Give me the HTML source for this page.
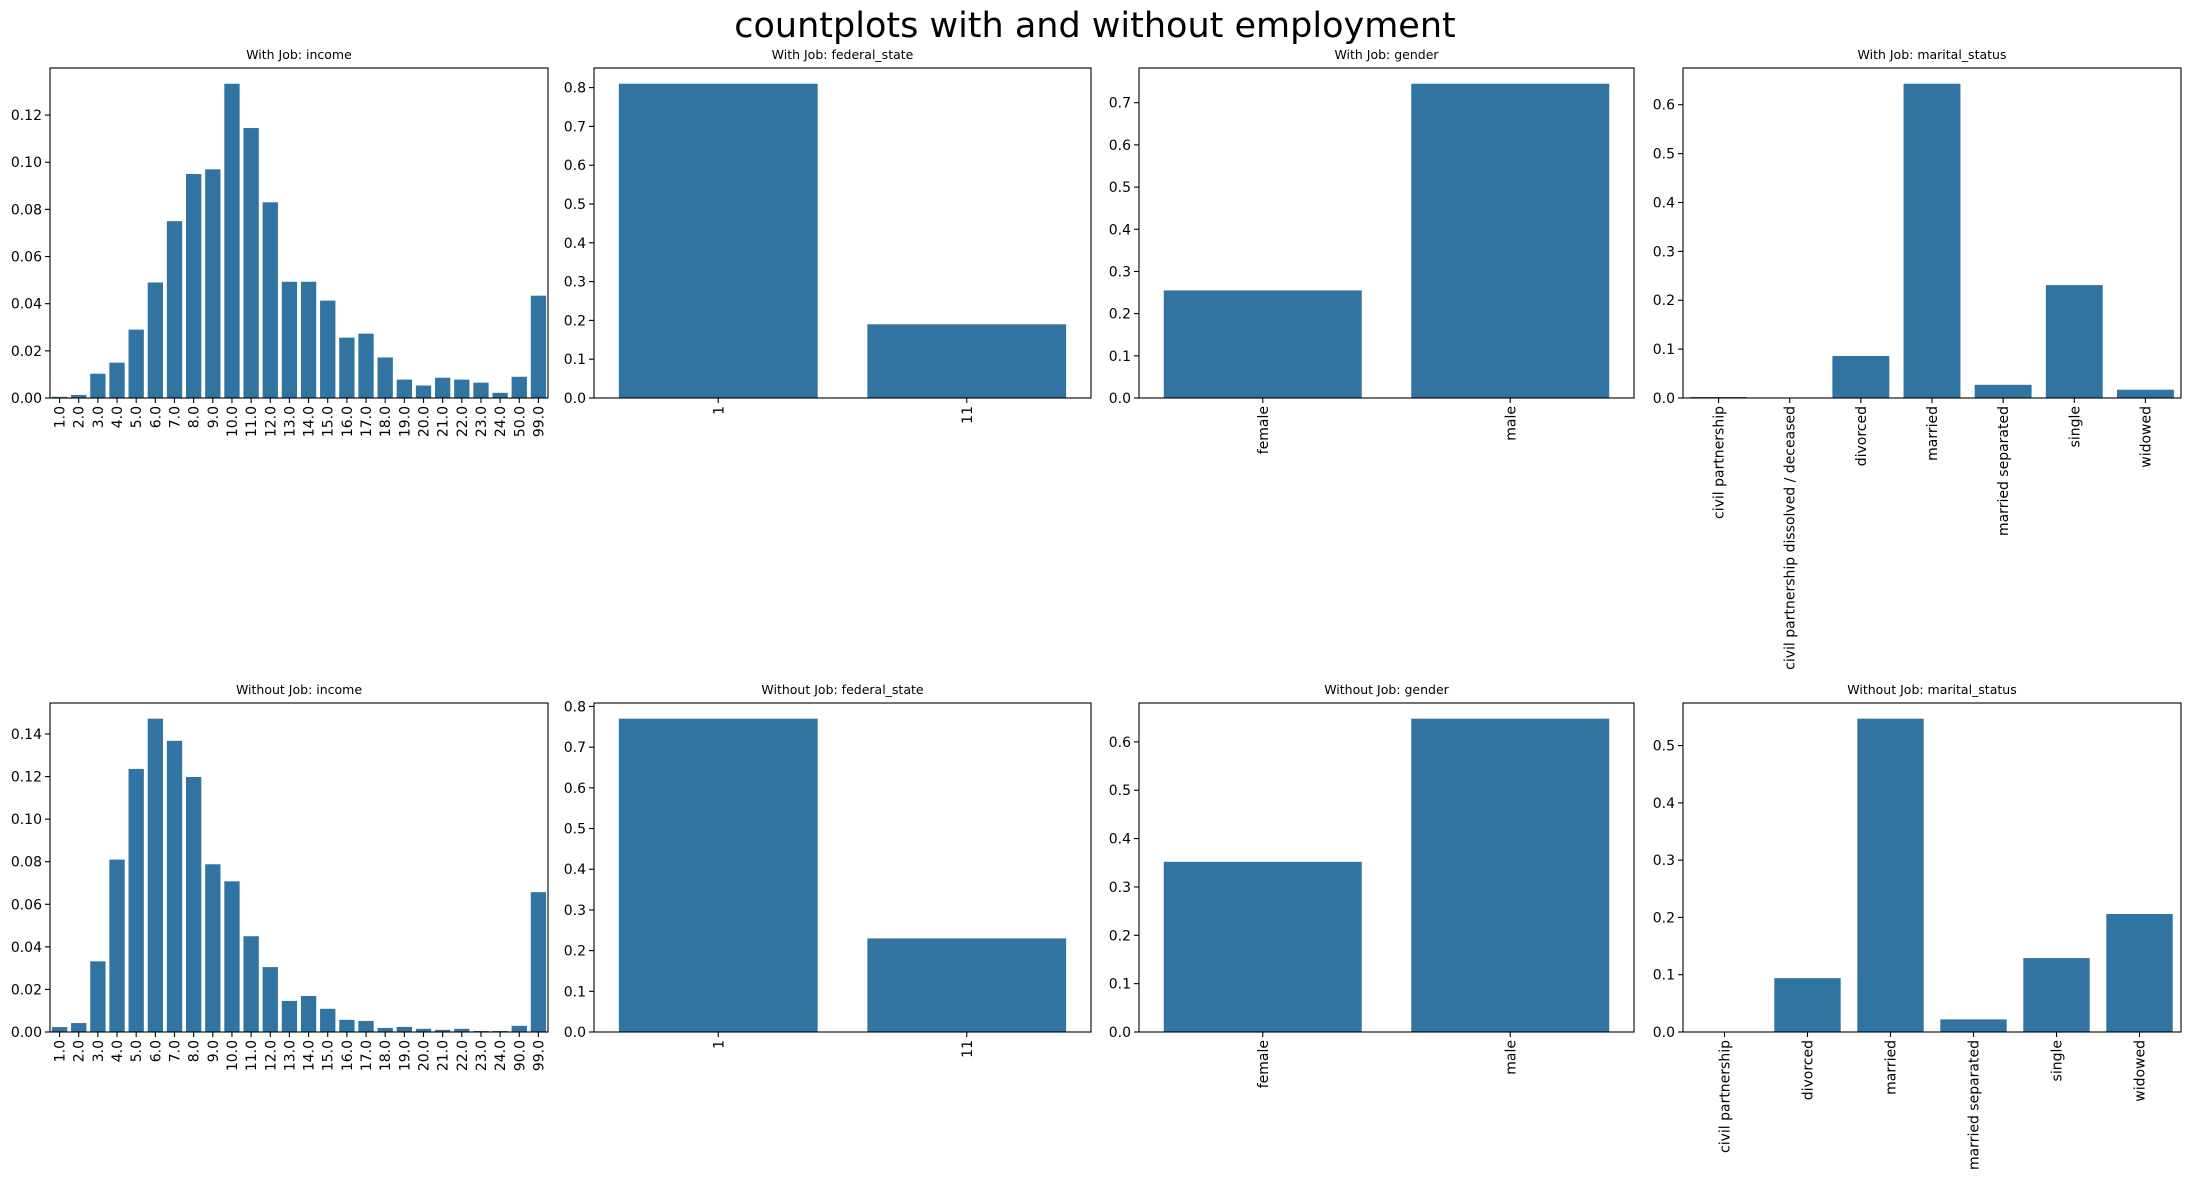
<!DOCTYPE html>
<html><head><meta charset="utf-8">
<style>
body{margin:0;background:#fff;}
svg{display:block;font-family:"DejaVu Sans","Liberation Sans",sans-serif;}
</style></head>
<body>
<svg id="fig" width="2190" height="1181" viewBox="0 0 2190 1181" xmlns="http://www.w3.org/2000/svg">
<rect width="2190" height="1181" fill="#fff"/>
<text x="1095" y="37" text-anchor="middle" font-size="35" fill="#000">countplots with and without employment</text>
</svg>
<script>
const incomeCatsJob = ["1.0","2.0","3.0","4.0","5.0","6.0","7.0","8.0","9.0","10.0","11.0","12.0","13.0","14.0","15.0","16.0","17.0","18.0","19.0","20.0","21.0","22.0","23.0","24.0","50.0","99.0"];
const incomeValsJob = [0.0005,0.0013,0.0103,0.015,0.029,0.049,0.075,0.095,0.097,0.1333,0.1145,0.083,0.0493,0.0493,0.0413,0.0256,0.0273,0.0172,0.0078,0.0053,0.0086,0.0078,0.0065,0.0022,0.009,0.0434];
const incomeCatsNo = ["1.0","2.0","3.0","4.0","5.0","6.0","7.0","8.0","9.0","10.0","11.0","12.0","13.0","14.0","15.0","16.0","17.0","18.0","19.0","20.0","21.0","22.0","23.0","24.0","90.0","99.0"];
const incomeValsNo = [0.0023,0.0042,0.0332,0.081,0.1236,0.1472,0.1368,0.1198,0.0788,0.0708,0.045,0.0305,0.0146,0.0169,0.0109,0.0057,0.0052,0.0019,0.0024,0.0015,0.001,0.0015,0.0005,0.0005,0.0029,0.0657];
const stateCats = ["1","11"];
const stateValsJob = [0.81,0.19];
const stateValsNo = [0.77,0.23];
const genderCats = ["female","male"];
const genderValsJob = [0.255,0.745];
const genderValsNo = [0.352,0.648];
const maritalCatsJob = ["civil partnership","civil partnership dissolved / deceased","divorced","married","married separated","single","widowed"];
const maritalValsJob = [0.002,0.0003,0.086,0.643,0.027,0.231,0.017];
const maritalCatsNo = ["civil partnership","divorced","married","married separated","single","widowed"];
const maritalValsNo = [0.0005,0.094,0.547,0.022,0.129,0.206];

const NS="http://www.w3.org/2000/svg";
const svg=document.getElementById('fig');
function mk(tag,attrs){const e=document.createElementNS(NS,tag);for(const k in attrs)e.setAttribute(k,attrs[k]);svg.appendChild(e);return e;}

const cols=[[50,548],[594,1091],[1139,1634],[1683,2181]];
const rows=[[68,398],[703,1032]];

function panel(title,cats,vals,col,row,step,dec,slug){
  const [x0,x1]=cols[col],[y0,y1]=rows[row];
  const ymax=Math.max(...vals)*1.05;
  const n=cats.length;
  const xs=i=>x0+(i+0.5)*(x1-x0)/n;
  const bw=0.8*(x1-x0)/n;
  const ys=v=>y1-v/ymax*(y1-y0);
  const t=mk('text',{x:(x0+x1)/2,y:y0-9,'text-anchor':'middle','font-size':12.5,fill:'#000'});
  t.textContent=title;
  
  
  vals.forEach((v,i)=>{
    const r=mk('rect',{x:xs(i)-bw/2,y:ys(v),width:bw,height:y1-ys(v),fill:'#3274a1'});
    
    
  });
  for(let k=0;k*step<=ymax+1e-9;k++){
    const v=k*step,y=ys(v);
    mk('line',{x1:x0-5,x2:x0,y1:y,y2:y,stroke:'#000','stroke-width':1.1});
    const l=mk('text',{x:x0-8,y:y+5,'text-anchor':'end','font-size':14,fill:'#000'});
    l.textContent=v.toFixed(dec);
    
    
  }
  cats.forEach((c,i)=>{
    const x=xs(i);
    mk('line',{x1:x,x2:x,y1:y1,y2:y1+5,stroke:'#000','stroke-width':1.1});
    const l=mk('text',{x:0,y:0,'text-anchor':'end','font-size':14,fill:'#000',transform:`translate(${x+5},${y1+8}) rotate(-90)`});
    l.textContent=c;
    
    
  });
  const f=mk('rect',{x:x0,y:y0,width:x1-x0,height:y1-y0,fill:'none',stroke:'#000','stroke-width':1.1});
  
  
}
panel("With Job: income",incomeCatsJob,incomeValsJob,0,0,0.02,2,'job-income');
panel("With Job: federal_state",stateCats,stateValsJob,1,0,0.1,1,'job-state');
panel("With Job: gender",genderCats,genderValsJob,2,0,0.1,1,'job-gender');
panel("With Job: marital_status",maritalCatsJob,maritalValsJob,3,0,0.1,1,'job-marital');
panel("Without Job: income",incomeCatsNo,incomeValsNo,0,1,0.02,2,'nojob-income');
panel("Without Job: federal_state",stateCats,stateValsNo,1,1,0.1,1,'nojob-state');
panel("Without Job: gender",genderCats,genderValsNo,2,1,0.1,1,'nojob-gender');
panel("Without Job: marital_status",maritalCatsNo,maritalValsNo,3,1,0.1,1,'nojob-marital');
</script>
</body></html>
